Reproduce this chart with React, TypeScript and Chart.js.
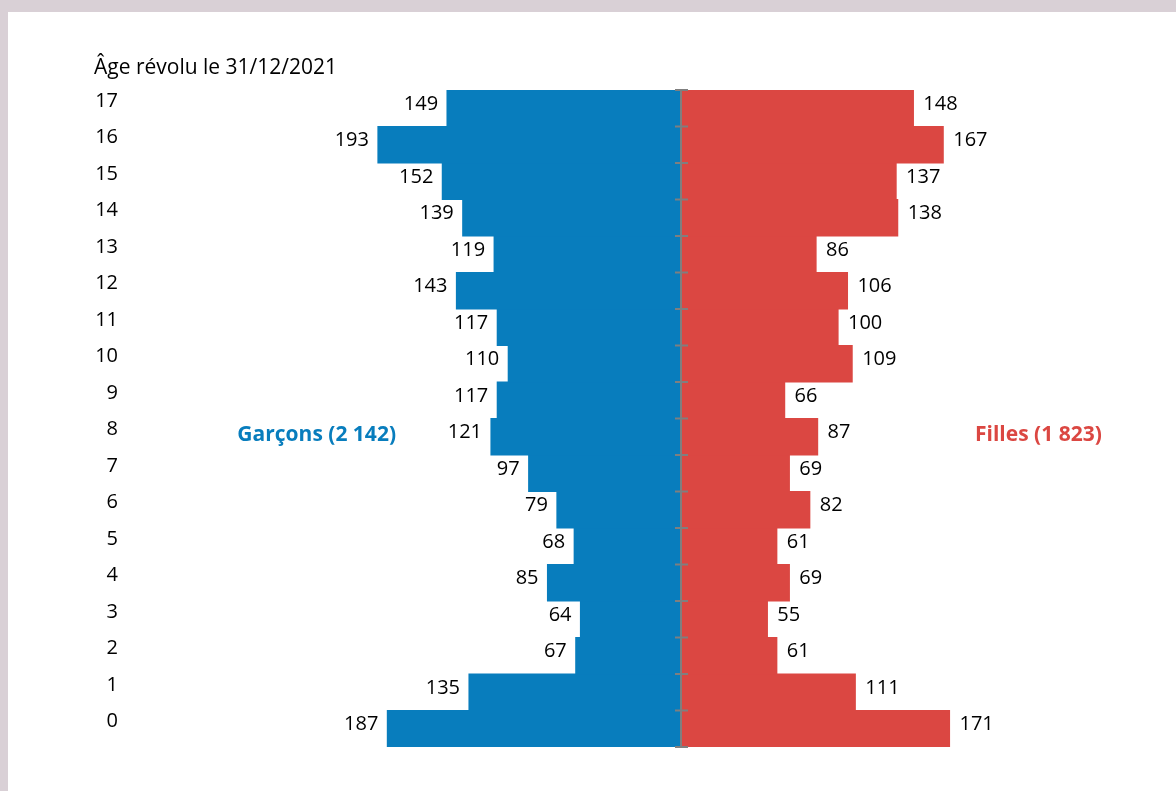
import React, { useEffect, useRef } from "react";
import { Chart, registerables } from "chart.js";

Chart.register(...registerables);

const ages: string[] = ["0","1","2","3","4","5","6","7","8","9","10","11","12","13","14","15","16","17"];
const boys: number[] = [187,135,67,64,85,68,79,97,121,117,110,117,143,119,139,152,193,149];
const girls: number[] = [171,111,61,55,69,61,82,69,87,66,109,100,106,86,138,137,167,148];
const axisTitle = "Âge révolu le 31/12/2021";
const boysLabel = "Garçons (2 142)";
const girlsLabel = "Filles (1 823)";

const BLUE = "#087dbd";
const RED = "#db4742";
const FONT = "'Open Sans', sans-serif";

export default function App() {
  const ref = useRef<HTMLCanvasElement | null>(null);

  useEffect(() => {
    const canvas = ref.current;
    if (!canvas) return;

    const decor = {
      id: "decor",
      beforeDraw(chart: any) {
        const ctx = chart.ctx;
        ctx.save();
        ctx.fillStyle = "#d9d0d6";
        ctx.fillRect(0, 0, chart.width, chart.height);
        ctx.fillStyle = "#ffffff";
        ctx.fillRect(8, 12, chart.width - 8, chart.height - 12);
        ctx.restore();
      },
      afterDatasetsDraw(chart: any) {
        const ctx = chart.ctx;
        const xs = chart.scales.x;
        const ys = chart.scales.y;
        const area = chart.chartArea;
        const x0 = Math.round(xs.getPixelForValue(0));
        ctx.save();
        ctx.strokeStyle = "#7f7f7f";
        ctx.lineWidth = 2;
        ctx.beginPath();
        ctx.moveTo(x0, area.top);
        ctx.lineTo(x0, area.bottom);
        ctx.stroke();
        const n = ages.length;
        const step = (area.bottom - area.top) / n;
        for (let i = 0; i <= n; i++) {
          const y = i < n ? ys.getPixelForValue(i) + step / 2 : ys.getPixelForValue(n - 1) - step / 2;
          ctx.beginPath();
          ctx.moveTo(x0 - 6, y);
          ctx.lineTo(x0 + 7, y);
          ctx.stroke();
        }

        ctx.fillStyle = "#000000";
        ctx.font = `20px ${FONT}`;
        ctx.textBaseline = "middle";
        const mMeta = chart.getDatasetMeta(0);
        const fMeta = chart.getDatasetMeta(1);
        mMeta.data.forEach((bar: any, i: number) => {
          ctx.textAlign = "right";
          ctx.fillText(String(boys[i]), bar.x - 9, bar.y - 4);
        });
        fMeta.data.forEach((bar: any, i: number) => {
          ctx.textAlign = "left";
          ctx.fillText(String(girls[i]), bar.x + 10, bar.y - 4);
        });

        ctx.textAlign = "right";
        ages.forEach((a, i) => {
          ctx.fillText(a, 118, ys.getPixelForValue(i) - 7);
        });

        ctx.font = `21px ${FONT}`;
        ctx.textAlign = "left";
        ctx.fillText(axisTitle, 94, 68);

        const midY = ys.getPixelForValue(8) - 2;
        ctx.font = `bold 21px ${FONT}`;
        ctx.fillStyle = BLUE;
        ctx.textAlign = "right";
        ctx.fillText(boysLabel, 396, midY);
        ctx.fillStyle = RED;
        ctx.textAlign = "left";
        ctx.fillText(girlsLabel, 975, midY);
        ctx.restore();
      },
    };

    const chart = new Chart(canvas, {
      type: "bar",
      data: {
        labels: ages,
        datasets: [
          {
            label: boysLabel,
            data: boys.map((v) => -v),
            backgroundColor: BLUE,
            borderWidth: 0,
            inflateAmount: 0.6,
            barPercentage: 1,
            categoryPercentage: 1,
          },
          {
            label: girlsLabel,
            data: girls,
            backgroundColor: RED,
            borderWidth: 0,
            inflateAmount: 0.6,
            barPercentage: 1,
            categoryPercentage: 1,
          },
        ],
      },
      options: {
        indexAxis: "y",
        responsive: false,
        animation: false,
        layout: { padding: { left: 367, right: 181, top: 90, bottom: 44 } },
        plugins: {
          legend: { display: false },
          tooltip: { enabled: false },
        },
        scales: {
          x: { display: false, min: -200, max: 200, stacked: true },
          y: { display: false, reverse: true, stacked: true },
        },
      },
      plugins: [decor],
    });

    return () => chart.destroy();
  }, []);

  return (
    <div style={{ position: "absolute", left: 0, top: 0, width: 1176, height: 791 }}>
      <canvas ref={ref} width={1176} height={791} style={{ display: "block" }} />
    </div>
  );
}
